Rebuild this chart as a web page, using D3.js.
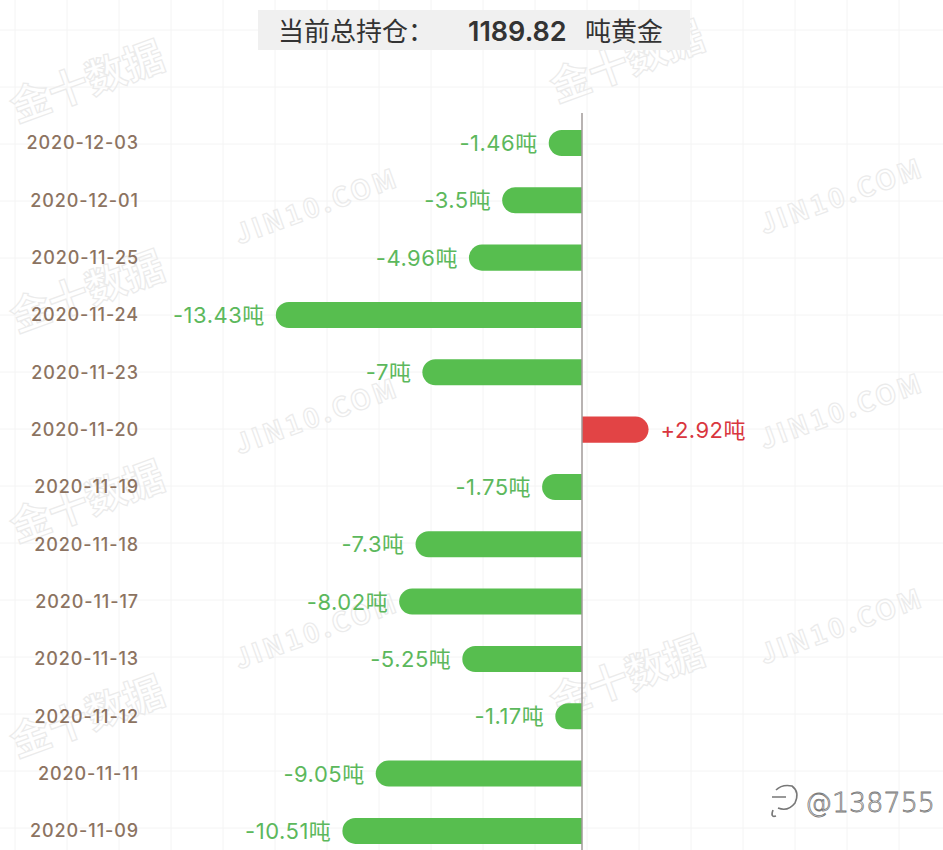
<!DOCTYPE html>
<html>
<head>
<meta charset="utf-8">
<script src="https://cdn.jsdelivr.net/npm/d3@7/dist/d3.min.js"></script>
<style>
  html, body { margin: 0; padding: 0; background: #fff; }
  svg { display: block; }
</style>
</head>
<body>
<svg id="chart" width="943" height="850"></svg>
<script>
const dates = ["2020-12-03","2020-12-01","2020-11-25","2020-11-24","2020-11-23","2020-11-20","2020-11-19","2020-11-18","2020-11-17","2020-11-13","2020-11-12","2020-11-11","2020-11-09"];
const changes = [-1.46,-3.5,-4.96,-13.43,-7,2.92,-1.75,-7.3,-8.02,-5.25,-1.17,-9.05,-10.51];
const titleLabel = "当前总持仓：";
const totalHolding = "1189.82";
const unitLabel = "吨黄金";
const valueUnit = "吨";

const W = 943, H = 850;
const svg = d3.select("#chart");
const cjk = "'Noto Sans CJK SC','Noto Sans',sans-serif";
const latin = "Inter,'Noto Sans CJK SC',sans-serif";

// faint background grid
const grid = svg.append("g").attr("stroke", "#f4f4f4").attr("stroke-width", 1);
for (let gx = 15; gx < W; gx += 52) grid.append("line").attr("x1", gx).attr("x2", gx).attr("y1", 0).attr("y2", H);
for (let gy = 30; gy < H; gy += 57) grid.append("line").attr("x1", 0).attr("x2", W).attr("y1", gy).attr("y2", gy);

// watermarks
const wm = svg.append("g").attr("fill", "none").attr("stroke", "#ebebeb").attr("stroke-width", 1.2).attr("font-family", cjk).attr("font-weight", 700);
[[92,95],[632,75],[92,305],[92,515],[632,690],[92,730]].forEach(([cx,cy]) => {
  wm.append("text").attr("x", cx).attr("y", cy).attr("text-anchor","middle").attr("font-size", 40)
    .attr("transform", `rotate(-20 ${cx} ${cy})`).text("金十数据");
});
[[320,215],[845,205],[320,425],[845,420],[320,640],[845,635]].forEach(([cx,cy]) => {
  wm.append("text").attr("x", cx).attr("y", cy).attr("text-anchor","middle").attr("font-size", 27)
    .attr("letter-spacing", 3).attr("transform", `rotate(-20 ${cx} ${cy})`).text("JIN10.COM");
});

// title
svg.append("rect").attr("x", 258).attr("y", 10).attr("width", 432).attr("height", 40).attr("fill", "#f0f0f0");
const tg = svg.append("g").attr("font-size", 26).attr("fill", "#333");
tg.append("text").attr("x", 278).attr("y", 41).attr("font-family", cjk).text(titleLabel);
tg.append("text").attr("x", 468).attr("y", 41).attr("font-family", latin).attr("font-weight", 600).attr("font-size", 27).text(totalHolding);
tg.append("text").attr("x", 585).attr("y", 41).attr("font-family", cjk).text(unitLabel);

// scales
const zeroX = 582, pxPerUnit = 22.8;
const x = d3.scaleLinear().domain([-14, 4]).range([zeroX - 14 * pxPerUnit, zeroX + 4 * pxPerUnit]);
const y = d3.scaleBand().domain(dates).range([114.3, 114.3 + 13 * 57.33]).paddingInner(0.546).paddingOuter(0.273);

// date labels (axis)
const yAxis = d3.axisLeft(y).tickSize(0).tickPadding(0);
const ga = svg.append("g").attr("transform", "translate(139,0)").call(yAxis);
ga.select(".domain").remove();
ga.selectAll("text").attr("font-family", latin).attr("font-size", 18)
  .attr("fill", "#8c7361").attr("font-weight", 500).attr("letter-spacing", 0.9).attr("dy", "0.36em");

// bars
const h = y.bandwidth(), r = h / 2;
const data = dates.map((d, i) => ({ date: d, v: changes[i] }));
svg.append("g").selectAll("path").data(data).join("path")
  .attr("fill", d => d.v < 0 ? "#57be4f" : "#e24445")
  .attr("d", d => {
    const y0 = y(d.date), x0 = x(0), x1 = x(d.v);
    if (d.v < 0) return `M${x0},${y0} H${x1 + r} A${r},${r} 0 0 0 ${x1 + r},${y0 + h} H${x0} Z`;
    return `M${x0},${y0} H${x1 - r} A${r},${r} 0 0 1 ${x1 - r},${y0 + h} H${x0} Z`;
  });

// zero axis line
svg.append("line").attr("x1", x(0)).attr("x2", x(0)).attr("y1", 113).attr("y2", H)
  .attr("stroke", "#a09a98").attr("stroke-width", 1.5);

// value labels
svg.append("g").selectAll("text").data(data).join("text")
  .attr("x", d => d.v < 0 ? x(d.v) - 11 : x(d.v) + 12)
  .attr("y", d => y(d.date) + h / 2 + 8)
  .attr("text-anchor", d => d.v < 0 ? "end" : "start")
  .attr("font-family", latin).attr("font-size", 22).attr("letter-spacing", 0.5)
  .attr("fill", d => d.v < 0 ? "#5cb85c" : "#d9363e")
  .text(d => (d.v > 0 ? "+" : "") + d.v + valueUnit);

// weibo watermark
const wb = svg.append("g").attr("fill", "#fff").attr("stroke", "#777").attr("stroke-width", 0.8);
wb.append("path").attr("fill", "none").attr("stroke-width", 1.6)
  .attr("d", "M776,790 Q782,784 792,786 Q800,792 795,803 Q788,812 778,808 M773,810 Q770,818 776,816 M772,797 L786,797");
wb.append("text").attr("x", 935).attr("y", 812).attr("text-anchor", "end")
  .attr("font-family", "'DejaVu Sans',sans-serif").attr("font-size", 27).attr("font-weight", 300)
  .text("@138755");
</script>
</body>
</html>
